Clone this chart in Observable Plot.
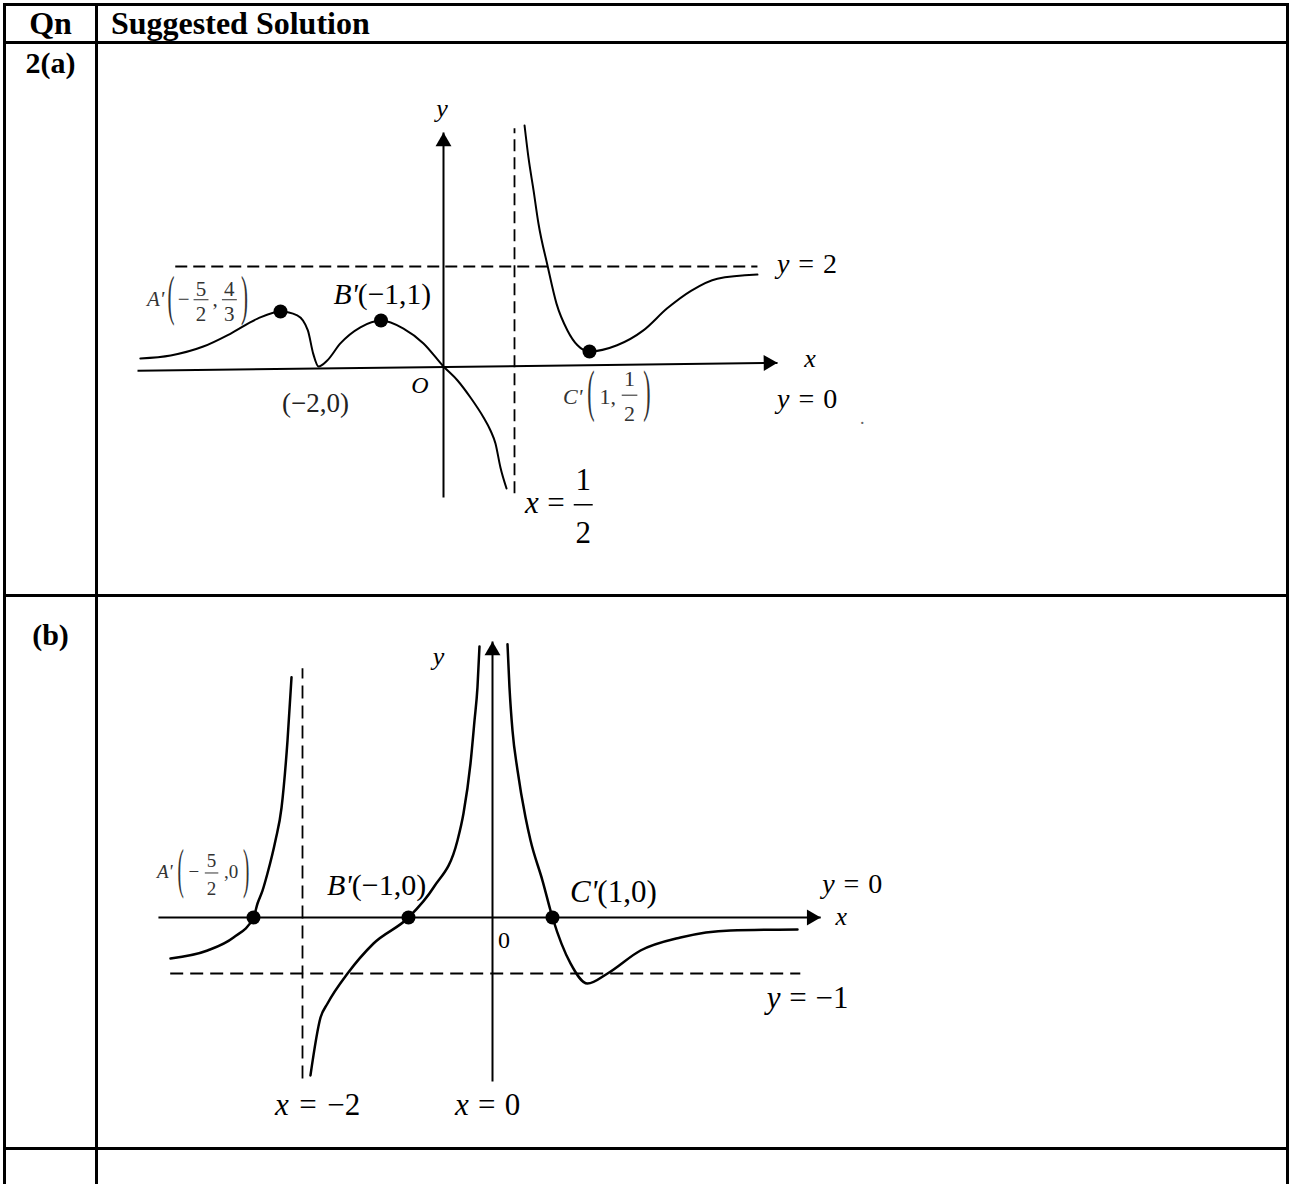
<!DOCTYPE html>
<html>
<head>
<meta charset="utf-8">
<script src="https://cdn.jsdelivr.net/npm/d3@7"></script>
<script src="https://cdn.jsdelivr.net/npm/@observablehq/plot@0.6"></script>
<style>
  html, body { margin: 0; padding: 0; background: #fff; overflow: hidden; }
  #page { position: relative; width: 1290px; height: 1184px; font-family: "Liberation Serif", "Times New Roman", serif; }
  .rule { position: absolute; background: #000; z-index: 3; }
  .cell { position: absolute; font-weight: bold; line-height: 1; white-space: nowrap; z-index: 3; }
  .chart { position: absolute; left: 0; z-index: 1; }
</style>
</head>
<body>
<div id="page">
  <div class="rule" style="left:3px;top:3px;width:1286px;height:3px"></div>
  <div class="rule" style="left:3px;top:41px;width:1286px;height:3px"></div>
  <div class="rule" style="left:3px;top:594px;width:1286px;height:3px"></div>
  <div class="rule" style="left:3px;top:1147px;width:1286px;height:3px"></div>
  <div class="rule" style="left:3px;top:3px;width:3px;height:1181px"></div>
  <div class="rule" style="left:95px;top:3px;width:3px;height:1181px"></div>
  <div class="rule" style="left:1286px;top:3px;width:3px;height:1181px"></div>
  <div class="cell" style="left:5px;width:91px;text-align:center;top:7px;font-size:32px">Qn</div>
  <div class="cell" style="left:111px;top:7px;font-size:32px">Suggested Solution</div>
  <div class="cell" style="left:5px;width:91px;text-align:center;top:48px;font-size:30px">2(a)</div>
  <div class="cell" style="left:5px;width:91px;text-align:center;top:620px;font-size:30px">(b)</div>
  <div id="chartA" class="chart" style="top:0px"></div>
  <div id="chartB" class="chart" style="top:596px"></div>
</div>
<script>
// ---------------------------------------------------------------------------
// Sketch values. The sketches are not drawn to scale, so each axis is a
// piecewise scale whose knots are the values that the labels name.
// ---------------------------------------------------------------------------

// Part (a)
const aXKnots = [-5, -2.5, -2, 0, 0.5, 1, 2.5];
const aYKnots = [-2.5, 0, 0.5, 1, 4 / 3, 2, 5];
const aMarked = [[-2.5, 4 / 3], [-1, 1], [1, 0.5]];            // A', B', C'
const aBranchLeft = [
  [-4.95, 0.27], [-4.42, 0.37], [-3.85, 0.58], [-3.37, 0.79], [-2.9, 1.07],
  [-2.5, 4 / 3], [-2.28, 1.19], [-2.14, 0.84], [-2.07, 0.43], [-2, 0],
  [-1.86, 0.2], [-1.65, 0.63], [-1.33, 0.89], [-1, 1], [-0.64, 0.87],
  [-0.32, 0.63], [0, 0], [0.099, -0.267], [0.19, -0.592], [0.282, -0.973],
  [0.331, -1.221], [0.366, -1.469], [0.401, -1.927], [0.444, -2.328]
];
const aBranchRight = [
  [0.567, 5.0], [0.593, 4.32], [0.627, 3.62], [0.66, 2.91], [0.72, 2.02],
  [0.78, 1.45], [0.853, 0.84], [0.92, 0.6], [1, 0.5], [1.22, 0.6],
  [1.43, 0.84], [1.62, 1.38], [1.81, 1.64], [2.02, 1.82], [2.34, 1.88]
];
const aAsymptotes = [
  {x1: 0.5, y1: -2.42, x2: 0.5, y2: 4.94},   // x = 1/2
  {x1: -4.34, y1: 2, x2: 2.34, y2: 2}        // y = 2
];
const aAxes = [
  {x1: -5, y1: -0.08, x2: 2.5, y2: 0.12},    // x-axis
  {x1: 0, y1: -2.5, x2: 0, y2: 4.85}         // y-axis
];

// Part (b)
const bXKnots = [-3.5, -2.5, -2, -1, 0, 1, 5.5];
const bYDomain = [-3, 5];
const bMarked = [[-2.5, 0], [-1, 0], [1, 0]];                  // A', B', C'
const bBranchLeft = [
  [-3.347, -0.732], [-2.969, -0.589], [-2.704, -0.357], [-2.5, 0], [-2.459, 0.25],
  [-2.408, 0.48], [-2.357, 0.79], [-2.276, 1.375], [-2.214, 1.96], [-2.153, 3.16],
  [-2.112, 4.29]
];
const bBranchMiddle = [
  [-1.925, -2.82], [-1.83, -1.786], [-1.764, -1.536], [-1.575, -1.0], [-1.33, -0.464],
  [-1, 0], [-0.702, 0.536], [-0.417, 1.375], [-0.345, 1.86], [-0.262, 2.75],
  [-0.214, 3.52], [-0.179, 4.11], [-0.155, 4.84]
];
const bBranchRight = [
  [0.25, 4.88], [0.283, 4.11], [0.333, 3.34], [0.417, 2.63], [0.55, 1.79],
  [0.633, 1.38], [0.833, 0.66], [1, 0], [1.3, -0.82], [1.583, -1.18],
  [1.917, -1.0], [2.467, -0.589], [3.133, -0.357], [3.967, -0.232], [5.083, -0.214]
];
const bAsymptotes = [
  {x1: -2, y1: -2.875, x2: -2, y2: 4.45},     // x = -2
  {x1: -3.35, y1: -1, x2: 5.13, y2: -1}       // y = -1
];
const bAxes = [
  {x1: -3.47, y1: 0, x2: 5.47, y2: 0},
  {x1: 0, y1: -2.93, x2: 0, y2: 4.93}
];

// ---------------------------------------------------------------------------
// Math-style labels: *italic*, {num|den} fractions, ⟨ ⟩ tall parentheses.
// ---------------------------------------------------------------------------
const FONT = '"Liberation Serif", "Times New Roman", serif';
const measureSvg = d3.select("body").append("svg")
  .attr("width", 10).attr("height", 10)
  .style("position", "absolute").style("left", "-100px").style("top", "0").style("visibility", "hidden");
const measureNode = measureSvg.append("text").attr("font-family", FONT).attr("text-anchor", "start");
function textWidth(t, size, italic) {
  measureNode.attr("font-size", size).attr("font-style", italic ? "italic" : "normal").text(t);
  return measureNode.node().getComputedTextLength();
}
function parseMath(src) {
  const out = []; let italic = false, buf = "";
  const flush = () => { if (buf) out.push({kind: "text", t: buf, italic}); buf = ""; };
  for (let i = 0; i < src.length; i++) {
    const c = src[i];
    if (c === "*") { flush(); italic = !italic; }
    else if (c === " ") { flush(); out.push({kind: "space"}); }
    else if (c === "⟨" || c === "⟩") { flush(); out.push({kind: "paren", t: c === "⟨" ? "(" : ")"}); }
    else if (c === "{") {
      flush();
      const j = src.indexOf("}", i);
      const [n, d] = src.slice(i + 1, j).split("|");
      out.push({kind: "frac", n, d});
      i = j;
    } else buf += c;
  }
  flush();
  return out;
}
function mathLabels(specs) {
  return (index, scales) => {
    const g = d3.create("svg:g").attr("font-family", FONT).attr("text-anchor", "start");
    for (const s of specs) {
      const size = s.size;
      const gap = (s.gap ?? 0) * size, space = (s.space ?? 0.28) * size, pad = (s.pad ?? 0.15) * size;
      const toks = parseMath(s.text);
      for (const t of toks) {
        if (t.kind === "text") t.w = textWidth(t.t, size, t.italic);
        else if (t.kind === "space") t.w = space;
        else if (t.kind === "paren") t.w = textWidth(t.t, size, false);
        else t.w = Math.max(textWidth(t.n, size, false), textWidth(t.d, size, false)) + 2 * pad;
      }
      const step = (t, i) => t.w + (i < toks.length - 1 && t.kind !== "space" ? gap : 0);
      const total = d3.sum(toks, step);
      let cx = scales.x(s.x) + (s.dx ?? 0) - (s.anchor === "middle" ? total / 2 : 0);
      const base = scales.y(s.y) + (s.dy ?? 0);
      const axis = base - (s.axis ?? 0.28) * size;
      const color = s.color ?? "#000";
      toks.forEach((t, i) => {
        if (t.kind === "text") {
          g.append("text").attr("x", cx).attr("y", base).attr("font-size", size)
            .attr("font-style", t.italic ? "italic" : null).attr("fill", color).text(t.t);
        } else if (t.kind === "paren") {
          const k = s.paren / (0.871 * size);
          g.append("text").attr("transform", `translate(${cx},${axis}) scale(1,${k})`)
            .attr("y", 0.2585 * size).attr("font-size", size).attr("fill", color).text(t.t);
        } else if (t.kind === "frac") {
          const mid = cx + t.w / 2;
          g.append("text").attr("x", mid).attr("y", axis - s.ng * size).attr("text-anchor", "middle")
            .attr("font-size", size).attr("fill", color).text(t.n);
          g.append("text").attr("x", mid).attr("y", axis + s.dg * size).attr("text-anchor", "middle")
            .attr("font-size", size).attr("fill", color).text(t.d);
          g.append("line").attr("x1", cx + pad * 0.3).attr("x2", cx + t.w - pad * 0.3)
            .attr("y1", axis).attr("y2", axis).attr("stroke", color)
            .attr("stroke-width", Math.max(1, size * 0.05));
        }
        cx += step(t, i);
      });
    }
    return g.node();
  };
}

// Shared mark helpers
const px = d => d[0], py = d => d[1];
const curve = (data, w) => Plot.line(data, {x: px, y: py, curve: "monotone-x", stroke: "#000", strokeWidth: w, strokeLinecap: "round"});
const dashed = (data, dash) => Plot.link(data, {x1: "x1", y1: "y1", x2: "x2", y2: "y2", stroke: "#000", strokeWidth: 1.8, strokeDasharray: dash});
const axisLines = data => Plot.link(data, {x1: "x1", y1: "y1", x2: "x2", y2: "y2", stroke: "#000", strokeWidth: 2});
const HEAD_R = 5.9, HEAD_OFF = 9.2;

// ---------------------------------------------------------------------------
// Part (a)
// ---------------------------------------------------------------------------
const aXRange = [137, 280, 318, 443, 514, 589, 777];
const aYRange = [497, 366, 351, 320, 311, 266, 125];
const ax = d3.scaleLinear(aXKnots, aXRange), ay = d3.scaleLinear(aYKnots, aYRange);
const aXAxis = aAxes[0], aYAxis = aAxes[1];
const aTilt = Math.atan2(ay(aXAxis.y2) - ay(aXAxis.y1), ax(aXAxis.x2) - ax(aXAxis.x1)) * 180 / Math.PI;

const aLabels = [
  {x: aYAxis.x2, y: aYAxis.y2, dx: -1, dy: -15, anchor: "middle", size: 26, text: "*y*"},
  {x: aXAxis.x2, y: aXAxis.y2, dx: 33, dy: 5, anchor: "middle", size: 26, text: "*x*"},
  {x: 0, y: 0, dx: -23, dy: 27, anchor: "middle", size: 24, text: "*O*"},
  {x: aAsymptotes[1].x2, y: 2, dx: 20, dy: 7, size: 28, space: 0.32, text: "*y* = 2"},
  {x: aXAxis.x2, y: aXAxis.y2, dx: 0, dy: 46, size: 28, space: 0.32, text: "*y* = 0"},
  {x: 0.5, y: aAsymptotes[0].y1, dx: 11, dy: 20, size: 31, text: "*x* = {1|2}", axis: 0.26, ng: 0.48, dg: 1.23, pad: 0.08, space: 0.27},
  {x: -2, y: 0, dx: -36, dy: 46, size: 27, text: "(−2,0)", color: "#222"},
  {x: -1, y: 1, dx: -47, dy: -16, size: 29.5, text: "*B'*(−1,1)"},
  {x: -2.5, y: 4 / 3, dx: -133, dy: -5.4, size: 21, text: "*A'*⟨−{5|2},{4|3}⟩", gap: 0.15, ng: 0.17, dg: 1.0, paren: 48, color: "#333"},
  {x: 1, y: 0.5, dx: -26, dy: 53, size: 22, text: "*C'*⟨1,{1|2}⟩", gap: 0.22, axis: 0.4, ng: 0.41, dg: 1.18, paren: 49, color: "#333"},
  {x: aXAxis.x2, y: aXAxis.y2, dx: 83, dy: 62, size: 18, text: ".", color: "#666"}
];

const chartA = Plot.plot({
  width: 1290, height: 596, margin: 0,
  style: {background: "transparent", overflow: "visible"},
  x: {type: "linear", domain: aXKnots, range: aXRange, axis: null},
  y: {type: "linear", domain: aYKnots, range: aYRange, axis: null},
  marks: [
    dashed(aAsymptotes, "12,6"),
    axisLines(aAxes),
    curve(aBranchLeft, 2),
    curve(aBranchRight, 2),
    Plot.dot([[aYAxis.x2, aYAxis.y2]], {x: px, y: py, symbol: "triangle", r: HEAD_R, fill: "#000", dy: HEAD_OFF}),
    Plot.dot([[aXAxis.x2, aXAxis.y2]], {x: px, y: py, symbol: "triangle", r: HEAD_R, fill: "#000", rotate: 90 + aTilt, dx: -HEAD_OFF}),
    Plot.dot(aMarked, {x: px, y: py, r: 7, fill: "#000"}),
    mathLabels(aLabels)
  ]
});
document.getElementById("chartA").append(chartA);

// ---------------------------------------------------------------------------
// Part (b)
// ---------------------------------------------------------------------------
const B_TOP = 596;
const bXRange = [155, 253, 302, 408, 492, 552, 822];
const bYRange = [1085, 637].map(v => v - B_TOP);
const bXAxis = bAxes[0], bYAxis = bAxes[1];

const bLabels = [
  {x: bYAxis.x2, y: bYAxis.y2, dx: -53.5, dy: 24, anchor: "middle", size: 26, text: "*y*"},
  {x: bXAxis.x2, y: 0, dx: 21, dy: 8, anchor: "middle", size: 26, text: "*x*"},
  {x: bXAxis.x2, y: 0, dx: 2, dy: -24, size: 28, space: 0.32, text: "*y* = 0"},
  {x: bAsymptotes[1].x2, y: -1, dx: -33, dy: 35, size: 31, text: "*y* = −1"},
  {x: 1, y: 0, dx: 18, dy: -15, size: 31, text: "*C'*(1,0)"},
  {x: 0, y: 0, dx: 6, dy: 31, size: 24, text: "0"},
  {x: -1, y: 0, dx: -81, dy: -22, size: 30, text: "*B'*(−1,0)"},
  {x: -2.5, y: 0, dx: -96, dy: -38.7, size: 19, text: "*A'*⟨−{5|2},0⟩", gap: 0.25, ng: 0.33, dg: 1.17, paren: 48, color: "#333"},
  {x: -2, y: bAsymptotes[0].y1, dx: -27, dy: 37, size: 31, space: 0.34, text: "*x* = −2"},
  {x: 0, y: bYAxis.y1, dx: -37, dy: 34, size: 31, space: 0.3, text: "*x* = 0"}
];

const chartB = Plot.plot({
  width: 1290, height: 588, margin: 0,
  style: {background: "transparent", overflow: "visible"},
  x: {type: "linear", domain: bXKnots, range: bXRange, axis: null},
  y: {type: "linear", domain: bYDomain, range: bYRange, axis: null},
  marks: [
    dashed(bAsymptotes, "13,7"),
    axisLines(bAxes),
    curve(bBranchLeft, 2.5),
    curve(bBranchMiddle, 2.5),
    curve(bBranchRight, 2.5),
    Plot.dot([[bYAxis.x2, bYAxis.y2]], {x: px, y: py, symbol: "triangle", r: HEAD_R, fill: "#000", dy: HEAD_OFF}),
    Plot.dot([[bXAxis.x2, 0]], {x: px, y: py, symbol: "triangle", r: HEAD_R, fill: "#000", rotate: 90, dx: -HEAD_OFF}),
    Plot.dot(bMarked, {x: px, y: py, r: 7, fill: "#000"}),
    mathLabels(bLabels)
  ]
});
document.getElementById("chartB").append(chartB);
</script>
</body>
</html>
